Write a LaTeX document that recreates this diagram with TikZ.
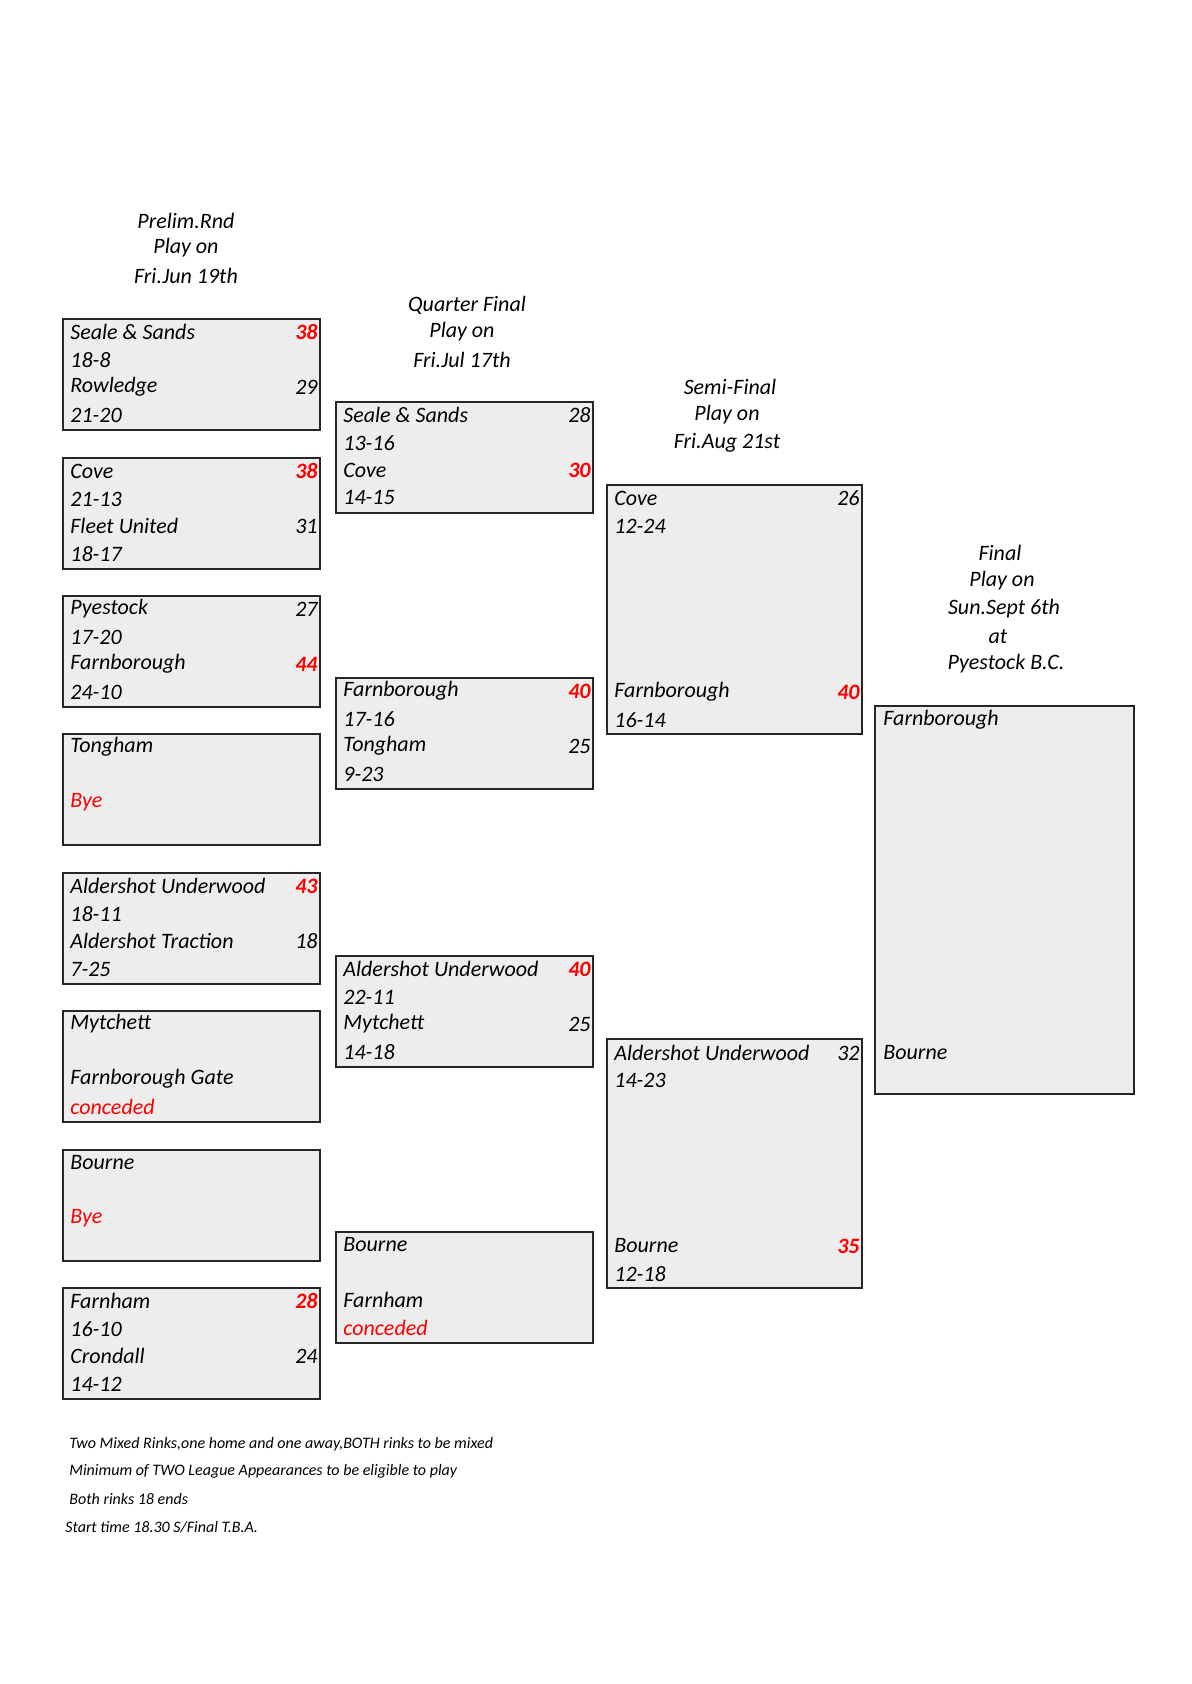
\documentclass[tikz,border=0pt]{standalone}
\usepackage{fontspec}
\setmainfont{Carlito}
\begin{document}
\begin{tikzpicture}[x=0.5pt,y=-0.5pt,
 box/.style={draw=black!85,fill=black!7,line width=0.8pt},
 t/.style={anchor=west,font=\itshape\fontsize{11}{13}\selectfont,inner sep=0pt},
 s/.style={anchor=east,font=\itshape\fontsize{11}{13}\selectfont,inner sep=0pt},
 w/.style={s,font=\bfseries\itshape\fontsize{11}{13}\selectfont,text=red},
 r/.style={t,text=red},
 h/.style={anchor=center,font=\itshape\fontsize{11}{13}\selectfont,inner sep=0pt},
 f/.style={anchor=west,font=\itshape\fontsize{8}{10}\selectfont,inner sep=0pt}]
\useasboundingbox (0,0) rectangle (1191,1684);
% headers
\node[h] (p1) at (186,221) {Prelim.Rnd};
\node[h] (p2) at (186,248) {Play on};
\node[h] (p3) at (186,276) {Fri.Jun 19th};
\node[h] (q1) at (467,305) {Quarter Final};
\node[h] (q2) at (462,332) {Play on};
\node[h] (q3) at (462,360) {Fri.Jul 17th};
\node[h] (s1) at (730,387) {Semi-Final};
\node[h] (s2) at (727,415) {Play on};
\node[h] (s3) at (727,443) {Fri.Aug 21st};
\node[h] (f1) at (1000,553) {Final};
\node[h] (f2) at (1002,581) {Play on};
\node[h] (f3) at (1004,609) {Sun.Sept 6th};
\node[h] (f4) at (998,637) {at};
\node[h] (f5) at (1006,664) {Pyestock B.C.};
% column 1
\foreach \y in {319,458,596,734,873,1011,1150,1288}{\draw[box] (63,\y) rectangle (320,\y+111);}
\newcommand\cone[5]{%
 \node[t] at (70,#1+13) {#2};\node[t] at (70,#1+41) {#3};
 \node[t] at (70,#1+68) {#4};\node[t] at (70,#1+96) {#5};}
\cone{319}{Seale \& Sands}{18-8}{Rowledge}{21-20}
\node[w] at (318,332) {38};\node[s] at (318,387) {29};
\cone{458}{Cove}{21-13}{Fleet United}{18-17}
\node[w] at (318,471) {38};\node[s] at (318,526) {31};
\cone{596}{Pyestock}{17-20}{Farnborough}{24-10}
\node[s] at (318,609) {27};\node[w] at (318,664) {44};
\node[t] at (70,747) {Tongham};\node[r] at (70,802) {Bye};
\cone{873}{Aldershot Underwood}{18-11}{Aldershot Traction}{7-25}
\node[w] at (318,886) {43};\node[s] at (318,941) {18};
\node[t] at (70,1024) {Mytchett};\node[t] at (70,1079) {Farnborough Gate};\node[r] at (70,1107) {conceded};
\node[t] at (70,1163) {Bourne};\node[r] at (70,1218) {Bye};
\cone{1288}{Farnham}{16-10}{Crondall}{14-12}
\node[w] at (318,1301) {28};\node[s] at (318,1356) {24};
% column 2
\foreach \y in {402,678,956,1232}{\draw[box] (336,\y) rectangle (593,\y+111);}
\newcommand\ctwo[5]{%
 \node[t] at (343,#1+13) {#2};\node[t] at (343,#1+41) {#3};
 \node[t] at (343,#1+68) {#4};\node[t] at (343,#1+96) {#5};}
\ctwo{402}{Seale \& Sands}{13-16}{Cove}{14-15}
\node[s] at (591,415) {28};\node[w] at (591,470) {30};
\ctwo{678}{Farnborough}{17-16}{Tongham}{9-23}
\node[w] at (591,691) {40};\node[s] at (591,746) {25};
\ctwo{956}{Aldershot Underwood}{22-11}{Mytchett}{14-18}
\node[w] at (591,969) {40};\node[s] at (591,1024) {25};
\node[t] at (343,1245) {Bourne};\node[t] at (343,1300) {Farnham};\node[r] at (343,1328) {conceded};
% column 3
\draw[box] (607,485) rectangle (862,734);
\node[t] at (614,498) {Cove};\node[t] at (614,526) {12-24};
\node[t] at (614,692) {Farnborough};\node[t] at (614,720) {16-14};
\node[s] at (860,498) {26};\node[w] at (860,692) {40};
\draw[box] (607,1039) rectangle (862,1288);
\node[t] at (614,1053) {Aldershot Underwood};\node[t] at (614,1080) {14-23};
\node[t] at (614,1246) {Bourne};\node[t] at (614,1274) {12-18};
\node[s] at (860,1053) {32};\node[w] at (860,1246) {35};
% final
\draw[box] (875,706) rectangle (1134,1094);
\node[t] at (883,720) {Farnborough};\node[t] at (883,1053) {Bourne};
% footnotes
\node[f] at (69,1444) {Two Mixed Rinks,one home and one away,BOTH rinks to be mixed};
\node[f] at (69,1471) {Minimum of TWO League Appearances to be eligible to play};
\node[f] at (69,1499) {Both rinks 18 ends};
\node[f] at (65,1527) {Start time 18.30 S/Final T.B.A.};
\end{tikzpicture}
\end{document}
